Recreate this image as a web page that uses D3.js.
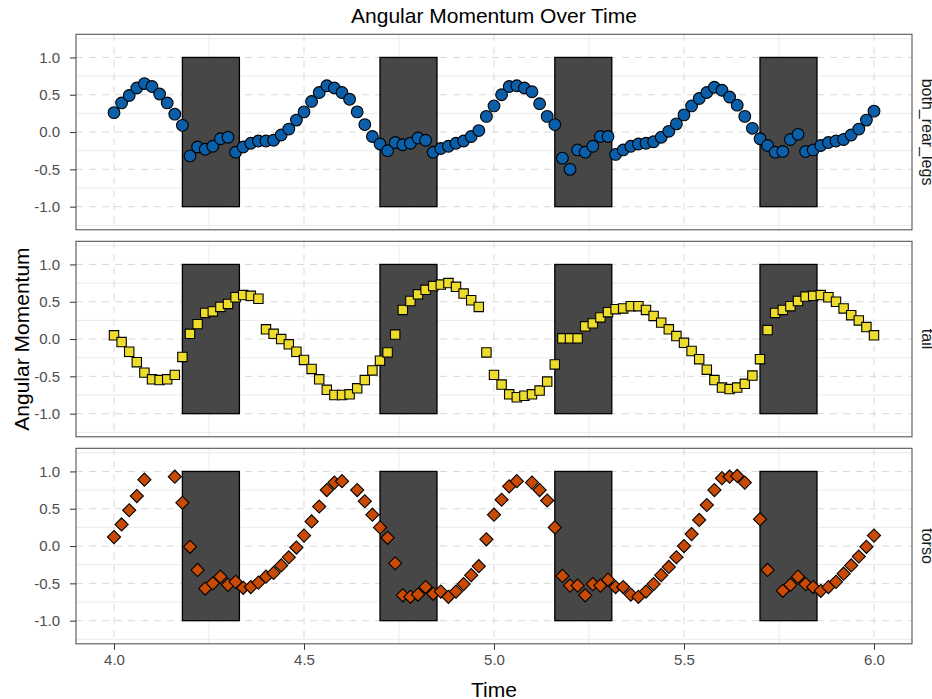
<!DOCTYPE html>
<html>
<head>
<meta charset="utf-8">
<script src="https://cdn.jsdelivr.net/npm/d3@7"></script>
<style>
    body { margin: 0; background: #ffffff; }
    svg { font-family: "Liberation Sans", Arial, sans-serif; }
    .axis text { fill: #4d4d4d; font-size: 15px; }
    .axis path { display: none; }
    .axis line { stroke: #333333; }
</style>
</head>
<body>
<div id="chart"></div>
<script>
// sample times (s)
var time = [
    4.00, 4.02, 4.04, 4.06, 4.08, 4.10, 4.12, 4.14, 4.16, 4.18,
    4.20, 4.22, 4.24, 4.26, 4.28, 4.30, 4.32, 4.34, 4.36, 4.38,
    4.40, 4.42, 4.44, 4.46, 4.48, 4.50, 4.52, 4.54, 4.56, 4.58,
    4.60, 4.62, 4.64, 4.66, 4.68, 4.70, 4.72, 4.74, 4.76, 4.78,
    4.80, 4.82, 4.84, 4.86, 4.88, 4.90, 4.92, 4.94, 4.96, 4.98,
    5.00, 5.02, 5.04, 5.06, 5.08, 5.10, 5.12, 5.14, 5.16, 5.18,
    5.20, 5.22, 5.24, 5.26, 5.28, 5.30, 5.32, 5.34, 5.36, 5.38,
    5.40, 5.42, 5.44, 5.46, 5.48, 5.50, 5.52, 5.54, 5.56, 5.58,
    5.60, 5.62, 5.64, 5.66, 5.68, 5.70, 5.72, 5.74, 5.76, 5.78,
    5.80, 5.82, 5.84, 5.86, 5.88, 5.90, 5.92, 5.94, 5.96, 5.98,
    6.00
];

// angular momentum per body part (null = missing sample)
var bothRearLegs = [
    0.26, 0.39, 0.49, 0.59, 0.65, 0.61, 0.51, 0.39, 0.24, 0.09,
    -0.32, -0.20, -0.23, -0.19, -0.09, -0.07, -0.27, -0.20, -0.15, -0.12,
    -0.12, -0.11, -0.04, 0.04, 0.16, 0.27, 0.41, 0.53, 0.62, 0.59,
    0.53, 0.44, 0.27, 0.10, -0.06, -0.16, -0.25, -0.14, -0.17, -0.15,
    -0.08, -0.11, -0.27, -0.22, -0.19, -0.15, -0.12, -0.06, 0.02, 0.21,
    0.35, 0.50, 0.61, 0.62, 0.59, 0.54, 0.38, 0.21, 0.10, -0.35,
    -0.50, -0.24, -0.27, -0.19, -0.06, -0.06, -0.30, -0.24, -0.19, -0.16,
    -0.15, -0.13, -0.07, 0.01, 0.11, 0.23, 0.35, 0.45, 0.53, 0.60,
    0.56, 0.47, 0.36, 0.21, 0.05, -0.09, -0.18, -0.27, -0.26, -0.10,
    -0.03, -0.26, -0.24, -0.18, -0.14, -0.12, -0.10, -0.04, 0.04, 0.16,
    0.28
];

var tail = [
    0.05, -0.04, -0.17, -0.31, -0.45, -0.54, -0.55, -0.54, -0.48, -0.24,
    0.07, 0.20, 0.35, 0.37, 0.43, 0.47, 0.56, 0.59, 0.58, 0.54,
    0.13, 0.07, 0.00, -0.07, -0.17, -0.28, -0.40, -0.54, -0.68, -0.75,
    -0.75, -0.74, -0.66, -0.55, -0.42, -0.29, -0.18, 0.06, 0.39, 0.51,
    0.60, 0.66, 0.71, 0.73, 0.75, 0.70, 0.61, 0.52, 0.43, -0.18,
    -0.48, -0.61, -0.74, -0.78, -0.76, -0.74, -0.69, -0.57, -0.34, 0.01,
    0.01, 0.01, 0.17, 0.21, 0.29, 0.36, 0.40, 0.41, 0.44, 0.44,
    0.39, 0.31, 0.22, 0.13, 0.04, -0.05, -0.16, -0.27, -0.41, -0.55,
    -0.65, -0.67, -0.65, -0.60, -0.49, -0.27, 0.12, 0.35, 0.39, 0.44,
    0.51, 0.57, 0.58, 0.59, 0.56, 0.50, 0.41, 0.32, 0.25, 0.16,
    0.05
];

var torso = [
    0.12, 0.29, 0.48, 0.67, 0.89, null, null, null, 0.93, 0.58,
    -0.01, -0.32, -0.57, -0.50, -0.41, -0.52, -0.48, -0.56, -0.55, -0.49,
    -0.41, -0.36, -0.26, -0.15, -0.02, 0.14, 0.33, 0.53, 0.75, 0.85,
    0.87, null, 0.75, 0.60, 0.42, 0.25, 0.11, -0.23, -0.66, -0.68,
    -0.65, -0.55, -0.64, -0.61, -0.68, -0.61, -0.51, -0.39, -0.27, 0.09,
    0.42, 0.62, 0.80, 0.87, null, 0.85, 0.75, 0.61, 0.25, -0.40,
    -0.53, -0.53, -0.66, -0.51, -0.53, -0.45, -0.55, -0.55, -0.65, -0.68,
    -0.61, -0.51, -0.39, -0.28, -0.15, 0.00, 0.16, 0.35, 0.55, 0.75,
    0.91, 0.93, 0.94, 0.85, null, 0.36, -0.32, null, -0.60, -0.52,
    -0.41, -0.51, -0.55, -0.60, -0.55, -0.48, -0.37, -0.26, -0.14, -0.01,
    0.14
];

// shaded intervals
var shadeStart = [4.18, 4.70, 5.16, 5.70];
var shadeEnd = [4.33, 4.85, 5.31, 5.85];

var panelNames = ['both_rear_legs', 'tail', 'torso'];
var xTicks = [4.0, 4.5, 5.0, 5.5, 6.0];
var xMinor = [4.25, 4.75, 5.25, 5.75];
var yTicks = [-1.0, -0.5, 0.0, 0.5, 1.0];
var yMinor = [-1.25, -0.75, -0.25, 0.25, 0.75, 1.25];

var width = 932,
    height = 699,
    margin = { left: 76, right: 20, top: 34.3 },
    panelHeight = 195.5,
    panelGap = 11.5;

var series = [
    { name: panelNames[0], values: bothRearLegs, fill: '#0b5ea8', shape: 'circle' },
    { name: panelNames[1], values: tail, fill: '#eedc2c', shape: 'square' },
    { name: panelNames[2], values: torso, fill: '#c84a05', shape: 'diamond' }
];

var svg = d3.select('#chart').append('svg')
    .attr('width', width)
    .attr('height', height);

var xScale = d3.scaleLinear()
    .domain([3.9, 6.1])
    .range([margin.left, width - margin.right]);

var yScale = d3.scaleLinear()
    .domain([-1.31, 1.31])
    .range([panelHeight, 0]);

var shades = shadeStart.map(function (s, i) { return { x0: s, x1: shadeEnd[i] }; });

series.forEach(function (s, p) {
    var top = margin.top + p * (panelHeight + panelGap);
    var g = svg.append('g').attr('transform', 'translate(0,' + top + ')');

    // panel background + grid
    g.append('rect')
        .attr('x', xScale.range()[0])
        .attr('width', xScale.range()[1] - xScale.range()[0])
        .attr('height', panelHeight)
        .attr('fill', '#ffffff');

    g.selectAll('.ygrid-minor').data(yMinor).enter().append('line')
        .attr('x1', xScale.range()[0]).attr('x2', xScale.range()[1])
        .attr('y1', yScale).attr('y2', yScale)
        .attr('stroke', '#ebebeb').attr('stroke-width', 1);
    g.selectAll('.xgrid-minor').data(xMinor).enter().append('line')
        .attr('x1', xScale).attr('x2', xScale)
        .attr('y1', 0).attr('y2', panelHeight)
        .attr('stroke', '#ebebeb').attr('stroke-width', 1);
    g.selectAll('.ygrid').data(yTicks).enter().append('line')
        .attr('x1', xScale.range()[0]).attr('x2', xScale.range()[1])
        .attr('y1', yScale).attr('y2', yScale)
        .attr('stroke', '#d9d9d9').attr('stroke-width', 1)
        .attr('stroke-dasharray', '7,6');
    g.selectAll('.xgrid').data(xTicks).enter().append('line')
        .attr('x1', xScale).attr('x2', xScale)
        .attr('y1', 0).attr('y2', panelHeight)
        .attr('stroke', '#d9d9d9').attr('stroke-width', 1)
        .attr('stroke-dasharray', '7,6');

    // shaded boxes from -1 to 1
    g.selectAll('.shade').data(shades).enter().append('rect')
        .attr('x', function (d) { return xScale(d.x0); })
        .attr('width', function (d) { return xScale(d.x1) - xScale(d.x0); })
        .attr('y', yScale(1))
        .attr('height', yScale(-1) - yScale(1))
        .attr('fill', '#474747')
        .attr('stroke', '#000000')
        .attr('stroke-width', 1.3);

    // points
    var pts = time.map(function (t, i) { return { t: t, v: s.values[i] }; })
        .filter(function (d) { return d.v !== null; });

    var symType = s.shape === 'circle' ? d3.symbolCircle : d3.symbolSquare;
    var symSize = s.shape === 'circle' ? 108 : (s.shape === 'square' ? 88 : 86);
    var sym = d3.symbol().type(symType).size(symSize);

    g.selectAll('.pt').data(pts).enter().append('path')
        .attr('d', sym)
        .attr('transform', function (d) {
            return 'translate(' + xScale(d.t) + ',' + yScale(d.v) + ')' +
                (s.shape === 'diamond' ? ' rotate(45)' : '');
        })
        .attr('fill', s.fill)
        .attr('stroke', '#000000')
        .attr('stroke-width', 1.1);

    // panel border
    g.append('rect')
        .attr('x', xScale.range()[0])
        .attr('width', xScale.range()[1] - xScale.range()[0])
        .attr('height', panelHeight)
        .attr('fill', 'none')
        .attr('stroke', '#555555')
        .attr('stroke-width', 1.1);

    // y axis
    var yAxis = d3.axisLeft(yScale)
        .tickValues(yTicks)
        .tickSize(6)
        .tickPadding(10)
        .tickFormat(function (d) { return d.toFixed(1); });
    g.append('g')
        .attr('class', 'axis y')
        .attr('transform', 'translate(' + margin.left + ',0)')
        .call(yAxis);

    // strip label (runs past the right edge, as in the original)
    g.append('text')
        .attr('transform', 'translate(922,' + (panelHeight / 2) + ') rotate(90)')
        .attr('text-anchor', 'middle')
        .attr('font-size', '16px')
        .attr('fill', '#1a1a1a')
        .text(s.name);

    // x axis only under the last panel
    if (p === series.length - 1) {
        var xAxis = d3.axisBottom(xScale)
            .tickValues(xTicks)
            .tickSize(6)
            .tickPadding(5)
            .tickFormat(function (d) { return d.toFixed(1); });
        g.append('g')
            .attr('class', 'axis x')
            .attr('transform', 'translate(0,' + panelHeight + ')')
            .call(xAxis);
    }
});

var plotBottom = margin.top + 3 * panelHeight + 2 * panelGap;

// titles
svg.append('text')
    .attr('x', (xScale.range()[0] + xScale.range()[1]) / 2)
    .attr('y', 23)
    .attr('text-anchor', 'middle')
    .attr('font-size', '21px')
    .attr('fill', '#000000')
    .text('Angular Momentum Over Time');

svg.append('text')
    .attr('x', (xScale.range()[0] + xScale.range()[1]) / 2)
    .attr('y', 697)
    .attr('text-anchor', 'middle')
    .attr('font-size', '21px')
    .attr('fill', '#000000')
    .text('Time');

svg.append('text')
    .attr('transform', 'translate(29,' + ((margin.top + plotBottom) / 2) + ') rotate(-90)')
    .attr('text-anchor', 'middle')
    .attr('font-size', '21px')
    .attr('fill', '#000000')
    .text('Angular Momentum');
</script>
</body>
</html>
